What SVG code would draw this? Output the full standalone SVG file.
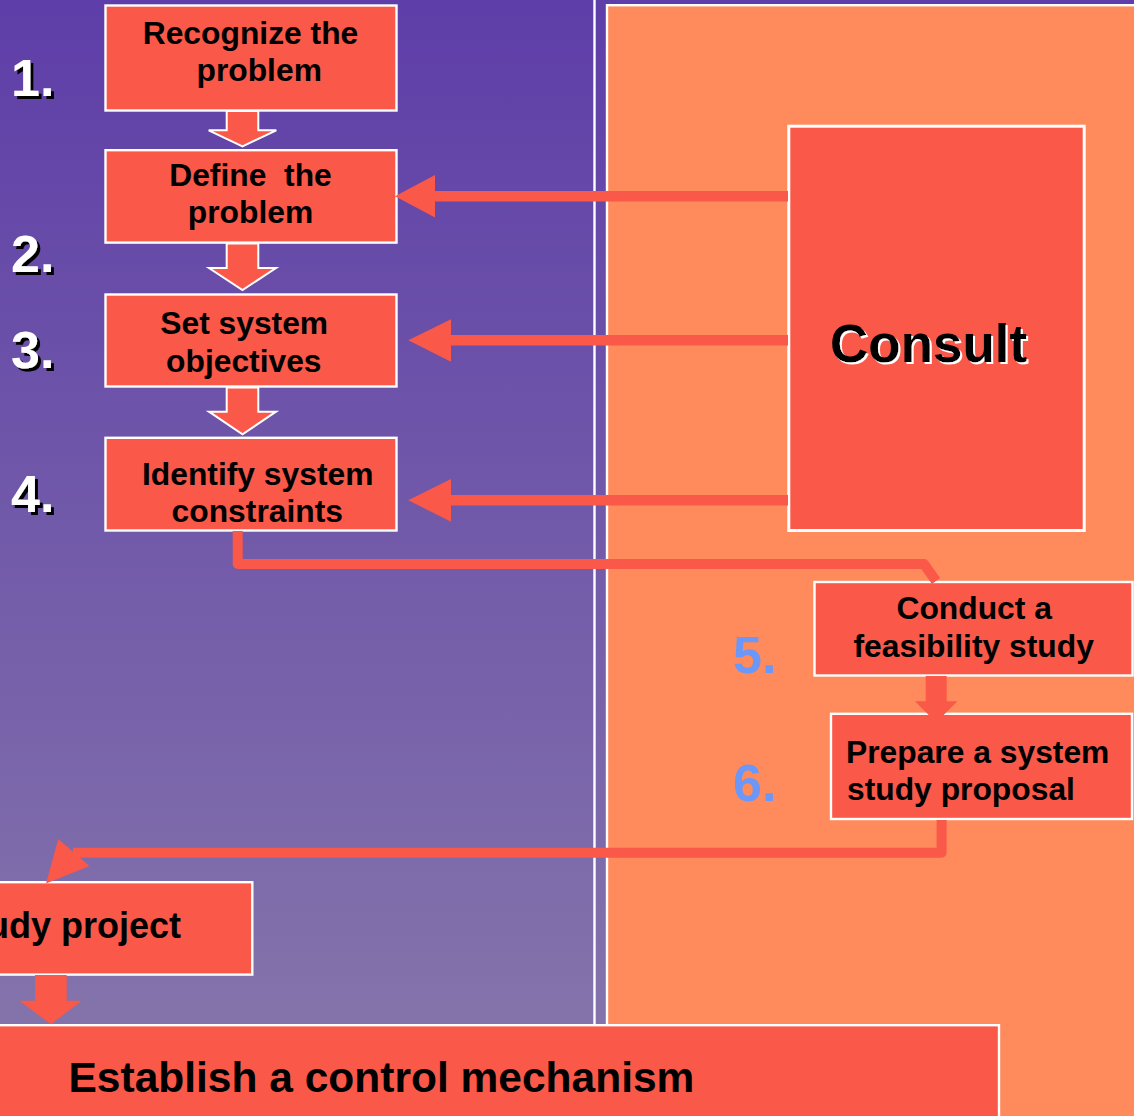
<svg xmlns="http://www.w3.org/2000/svg" width="1134" height="1116" viewBox="0 0 1134 1116">
  <defs>
    <linearGradient id="bgGrad" x1="0" y1="0" x2="0" y2="1">
      <stop offset="0" stop-color="#5E3EA8"/>
      <stop offset="1" stop-color="#8778AB"/>
    </linearGradient>
    <!-- dark drop shadow for the white step numbers -->
    <filter id="shadowDark" x="-20%" y="-20%" width="140%" height="140%">
      <feFlood flood-color="#000000" result="c"/>
      <feComposite in="c" in2="SourceAlpha" operator="in" result="s"/>
      <feOffset in="s" dx="2.5" dy="2.5" result="o"/>
      <feMerge><feMergeNode in="o"/><feMergeNode in="SourceGraphic"/></feMerge>
    </filter>
    <!-- light drop shadow for the Consult title -->
    <filter id="shadowLight" x="-20%" y="-20%" width="140%" height="140%">
      <feFlood flood-color="#FFFFFF" result="c"/>
      <feComposite in="c" in2="SourceAlpha" operator="in" result="s"/>
      <feOffset in="s" dx="2" dy="2" result="o"/>
      <feMerge><feMergeNode in="o"/><feMergeNode in="SourceGraphic"/></feMerge>
    </filter>
    <style>
      .box { fill:#FA5848; stroke:#FFFFFF; stroke-width:2.4; }
      .big { fill:#FA5848; stroke:#FFFFFF; stroke-width:3; }
      .lbl { font-family:"Liberation Sans", Arial, sans-serif; font-weight:bold; font-size:31.8px; fill:#000000; }
      .num { font-family:"Liberation Sans", Arial, sans-serif; font-weight:bold; font-size:52px; }
      .wire { fill:none; stroke:#FA5848; stroke-width:10.5; stroke-linejoin:round; }
      .head { fill:#FA5848; }
      .dn { fill:#FA5848; stroke:#FFFFFF; stroke-width:2; stroke-linejoin:miter; }
    </style>
  </defs>

  <!-- background panels -->
  <g id="background">
    <rect x="0" y="0" width="1134" height="1116" fill="url(#bgGrad)"/>
    <rect x="593.3" y="0" width="2.4" height="1025" fill="#FFFFFF"/>
    <rect x="607" y="5.2" width="600" height="1200" fill="#FF8A5B" stroke="#FFFFFF" stroke-width="2.4"/>
  </g>

  <!-- step numbers -->
  <g id="numbers" class="num">
    <text x="11" y="96" fill="#FFFFFF" filter="url(#shadowDark)">1.</text>
    <text x="11" y="272" fill="#FFFFFF" filter="url(#shadowDark)">2.</text>
    <text x="11" y="367.5" fill="#FFFFFF" filter="url(#shadowDark)">3.</text>
    <text x="11" y="512" fill="#FFFFFF" filter="url(#shadowDark)">4.</text>
    <text x="733" y="672.5" fill="#6A97F8">5.</text>
    <text x="733" y="800.5" fill="#6A97F8">6.</text>
  </g>

  <!-- process steps -->
  <g id="recognize">
    <rect class="box" x="105.5" y="5.5" width="291" height="105"/>
    <text class="lbl" text-anchor="middle" x="250.5" y="44.3">Recognize the</text>
    <text class="lbl" text-anchor="middle" x="259.2" y="81.3">problem</text>
  </g>
  <g id="define">
    <rect class="box" x="105.5" y="150.2" width="291" height="92.4"/>
    <text class="lbl" text-anchor="middle" x="250.5" y="185.7" xml:space="preserve">Define  the</text>
    <text class="lbl" text-anchor="middle" x="250.5" y="222.7">problem</text>
  </g>
  <g id="objectives">
    <rect class="box" x="105.5" y="294.5" width="291" height="92"/>
    <text class="lbl" text-anchor="middle" x="244.2" y="334.3">Set system</text>
    <text class="lbl" text-anchor="middle" x="243.8" y="371.7">objectives</text>
  </g>
  <g id="constraints">
    <rect class="box" x="105.5" y="437.8" width="291" height="92.7"/>
    <text class="lbl" text-anchor="middle" x="257.7" y="485">Identify system</text>
    <text class="lbl" text-anchor="middle" x="257.3" y="521.7">constraints</text>
  </g>
  <g id="consult">
    <rect class="big" x="788.8" y="126.2" width="295.4" height="404.3"/>
    <text class="num" x="830" y="362" fill="#000000" style="font-size:53px" filter="url(#shadowLight)">Consult</text>
  </g>
  <g id="feasibility">
    <rect class="box" x="814.5" y="582" width="318" height="93.5"/>
    <text class="lbl" text-anchor="middle" x="974.2" y="619.3">Conduct a</text>
    <text class="lbl" text-anchor="middle" x="973.7" y="657.3">feasibility study</text>
  </g>
  <g id="proposal">
    <rect class="box" x="831" y="713.8" width="301" height="105.2"/>
    <text class="lbl" x="846" y="762.7">Prepare a system</text>
    <text class="lbl" x="847" y="800">study proposal</text>
  </g>
  <g id="study-project">
    <rect class="box" x="-10" y="882.2" width="262.3" height="92.4"/>
    <text class="lbl" x="-13" y="938.3" style="font-size:36px">udy project</text>
  </g>
  <g id="control">
    <rect class="box" x="-10" y="1025.2" width="1009" height="120"/>
    <text class="lbl" x="68.5" y="1091.7" style="font-size:42.5px">Establish a control mechanism</text>
  </g>

  <!-- connectors -->
  <g id="connectors">
    <!-- block arrows down the left column -->
    <path class="dn" d="M226.7,111 H258.3 V130.3 H276.3 L242.5,146.3 L208.7,130.3 H226.7 Z"/>
    <path class="dn" d="M226.7,243.6 H258.3 V268 H276 L242.5,290 L209,268 H226.7 Z"/>
    <path class="dn" d="M226.7,387.5 H258.3 V411.7 H276 L242.5,434.3 L209,411.7 H226.7 Z"/>

    <!-- consult feeds steps 2-4 -->
    <path class="wire" d="M788,196.3 H433"/>
    <polygon class="head" points="395,196.3 435,175 435,217.5"/>
    <path class="wire" d="M788,340.3 H449"/>
    <polygon class="head" points="408.3,340.3 451,319.3 451,361.7"/>
    <path class="wire" d="M788,500.3 H449"/>
    <polygon class="head" points="408.3,500.3 451,479 451,521.7"/>

    <!-- step 4 to feasibility study -->
    <path class="wire" d="M237.7,531 V564 H924 L936,581" style="stroke-width:10"/>

    <!-- feasibility study to proposal -->
    <path class="head" d="M925.7,676 H946.7 V701.3 H957.4 L943.7,715 H928.7 L915,701.3 H925.7 Z"/>

    <!-- proposal back to study project -->
    <path class="wire" d="M941.6,820 V852.7 H73" style="stroke-width:10"/>
    <polygon class="head" points="58.3,839 89.5,866 46,883.5"/>

    <!-- study project to control mechanism -->
    <path class="head" d="M35,975 H66.7 V1000.7 H81.7 L50.8,1024.3 L19.3,1000.7 H35 Z"/>
  </g>
</svg>
